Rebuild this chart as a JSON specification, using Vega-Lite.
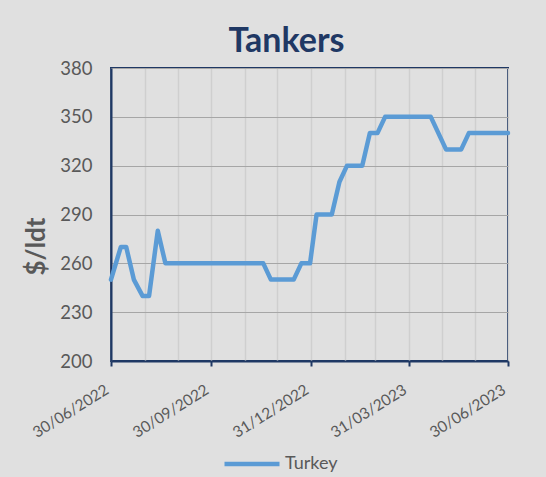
{
  "$schema": "https://vega.github.io/schema/vega-lite/v6.json",
  "autosize": "none",
  "width": 397,
  "height": 293,
  "padding": {"left": 111, "top": 68, "right": 38, "bottom": 116},
  "background": "#e0e0e0",
  "config": {
    "font": "Lato",
    "view": {"stroke": "#1f3864", "strokeWidth": 2, "fill": "#e0e0e0"}
  },
  "title": {
    "text": "Tankers",
    "font": "Lato",
    "fontSize": 34,
    "fontWeight": "bold",
    "color": "#1f3864",
    "anchor": "middle",
    "frame": "group",
    "baseline": "alphabetic",
    "dx": -23,
    "offset": -27
  },
  "data": {
    "values": [
      {"date": "2022-06-30", "price": 250, "series": "Turkey"},
      {"date": "2022-07-09", "price": 270, "series": "Turkey"},
      {"date": "2022-07-14", "price": 270, "series": "Turkey"},
      {"date": "2022-07-21", "price": 250, "series": "Turkey"},
      {"date": "2022-07-29", "price": 240, "series": "Turkey"},
      {"date": "2022-08-04", "price": 240, "series": "Turkey"},
      {"date": "2022-08-12", "price": 280, "series": "Turkey"},
      {"date": "2022-08-19", "price": 260, "series": "Turkey"},
      {"date": "2022-11-17", "price": 260, "series": "Turkey"},
      {"date": "2022-11-24", "price": 250, "series": "Turkey"},
      {"date": "2022-12-15", "price": 250, "series": "Turkey"},
      {"date": "2022-12-22", "price": 260, "series": "Turkey"},
      {"date": "2022-12-30", "price": 260, "series": "Turkey"},
      {"date": "2023-01-05", "price": 290, "series": "Turkey"},
      {"date": "2023-01-19", "price": 290, "series": "Turkey"},
      {"date": "2023-01-26", "price": 310, "series": "Turkey"},
      {"date": "2023-02-02", "price": 320, "series": "Turkey"},
      {"date": "2023-02-16", "price": 320, "series": "Turkey"},
      {"date": "2023-02-23", "price": 340, "series": "Turkey"},
      {"date": "2023-03-02", "price": 340, "series": "Turkey"},
      {"date": "2023-03-09", "price": 350, "series": "Turkey"},
      {"date": "2023-04-20", "price": 350, "series": "Turkey"},
      {"date": "2023-05-04", "price": 330, "series": "Turkey"},
      {"date": "2023-05-18", "price": 330, "series": "Turkey"},
      {"date": "2023-05-25", "price": 340, "series": "Turkey"},
      {"date": "2023-06-30", "price": 340, "series": "Turkey"}
    ]
  },
  "mark": {"type": "line", "strokeWidth": 4.5, "strokeJoin": "round", "strokeCap": "round"},
  "encoding": {
    "x": {
      "field": "date",
      "type": "temporal",
      "scale": {
        "type": "utc",
        "domain": [
          {"year": 2022, "month": 6, "date": 30, "utc": true},
          {"year": 2023, "month": 6, "date": 30, "utc": true}
        ]
      },
      "axis": {
        "title": null,
        "values": [
          {"year": 2022, "month": 6, "date": 30, "utc": true},
          {"year": 2022, "month": 7, "date": 31, "utc": true},
          {"year": 2022, "month": 8, "date": 31, "utc": true},
          {"year": 2022, "month": 9, "date": 30, "utc": true},
          {"year": 2022, "month": 10, "date": 31, "utc": true},
          {"year": 2022, "month": 11, "date": 30, "utc": true},
          {"year": 2022, "month": 12, "date": 31, "utc": true},
          {"year": 2023, "month": 1, "date": 31, "utc": true},
          {"year": 2023, "month": 2, "date": 28, "utc": true},
          {"year": 2023, "month": 3, "date": 31, "utc": true},
          {"year": 2023, "month": 4, "date": 30, "utc": true},
          {"year": 2023, "month": 5, "date": 31, "utc": true},
          {"year": 2023, "month": 6, "date": 30, "utc": true}
        ],
        "labelExpr": "indexof([2,5,8,11], utcmonth(datum.value)) >= 0 ? utcFormat(datum.value, '%d/%m/%Y') : ''",
        "labelAngle": -32,
        "labelAlign": "right",
        "labelBaseline": "top",
        "labelFontSize": 15.5,
        "labelColor": "#595959",
        "labelPadding": 16,
        "labelOffset": -8,
        "labelOverlap": false,
        "labelFlush": false,
        "domainColor": "#1f3864",
        "domainWidth": 2,
        "tickColor": "#1f3864",
        "tickWidth": 2,
        "tickSize": 5,
        "tickOpacity": {"condition": {"test": "indexof([2,5,8,11], utcmonth(datum.value)) >= 0", "value": 1}, "value": 0},
        "grid": true,
        "gridColor": "#cfcfcf",
        "gridWidth": 1.5
      }
    },
    "y": {
      "field": "price",
      "type": "quantitative",
      "scale": {"domain": [200, 380], "nice": false, "zero": false},
      "axis": {
        "title": "$/ldt",
        "titleFont": "Lato",
        "titleFontSize": 26,
        "titleFontWeight": "bold",
        "titleColor": "#595959",
        "titleAngle": -90,
        "titleAlign": "center",
        "titleBaseline": "middle",
        "titleX": -75,
        "titleY": 178,
        "values": [200, 230, 260, 290, 320, 350, 380],
        "labelFontSize": 18.5,
        "labelColor": "#595959",
        "labelPadding": 19,
        "ticks": false,
        "tickSize": 0,
        "domainColor": "#1f3864",
        "domainWidth": 2,
        "grid": true,
        "gridColor": "#a6a6a6",
        "gridWidth": 1.2
      }
    },
    "color": {
      "field": "series",
      "type": "nominal",
      "scale": {"range": ["#5b9bd5"]},
      "legend": {
        "title": null,
        "orient": "none",
        "legendX": 111,
        "legendY": 366,
        "direction": "horizontal",
        "symbolType": "stroke",
        "symbolSize": 3025,
        "symbolStrokeWidth": 4.5,
        "labelFontSize": 18,
        "labelColor": "#595959",
        "labelOffset": 3
      }
    }
  }
}
